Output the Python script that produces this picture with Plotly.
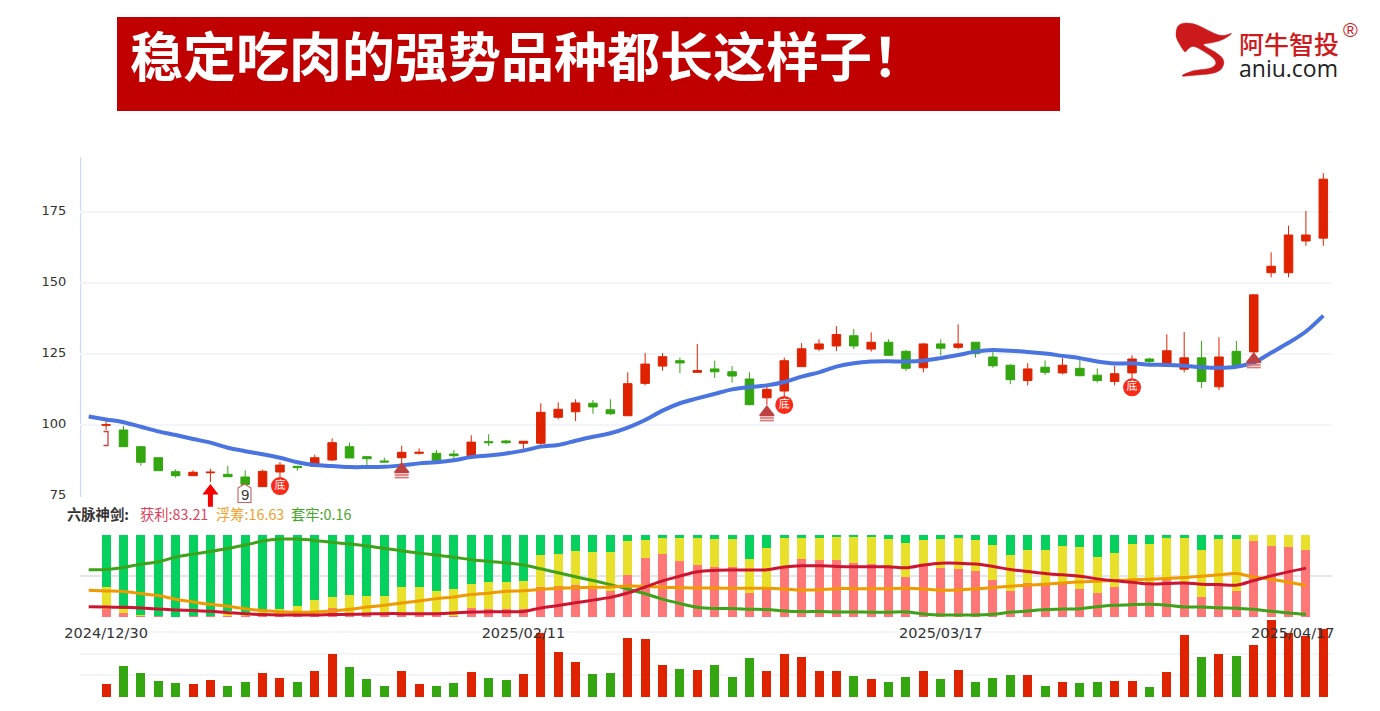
import plotly.graph_objects as go

W, H = 1380, 711

# ---------- data ----------
title_text = "稳定吃肉的强势品种都长这样子！"
tick_pos = [0, 24, 48]
tick_labels = ["2024/12/30", "2025/02/11", "2025/03/17"]
last_label = "2025/04/17"

opens = [99.95, 98.27, 92.38, 88.5, 83.57, 82.16, 83.2, 82.65, 81.7, 78.3, 83.46, 85.47, 85.47, 87.7, 92.38, 88.86, 87.34, 88.5, 90.05, 90.05, 89.8, 89.2, 94.15, 94.4,
         93.6, 93.6, 102.75, 104.7, 107.7, 105.4, 103.3, 114.7, 120.8, 122.7, 118.6, 119.8, 118.8, 116.25, 109.6, 112.0, 120.6, 126.8, 127.9, 131.5, 126.8, 129.2, 126.0, 120.2,
         128.6, 127.4, 129.2, 124.0, 121.1, 115.7, 120.4, 118.4, 120.0, 117.6, 115.4, 118.4, 123.3, 120.9, 119.7, 123.7, 113.5, 126.0, 125.8, 153.7, 153.7, 164.9, 165.9]
closes = [100.1, 92.38, 86.88, 83.92, 82.16, 83.36, 83.4, 81.8, 79.1, 83.7, 85.9, 85.0, 88.5, 93.8, 88.4, 88.15, 87.0, 90.4, 90.4, 86.74, 89.2, 94.0, 93.8, 93.8,
          94.3, 104.5, 105.57, 107.8, 106.4, 104.0, 114.6, 121.5, 124.1, 121.9, 119.2, 118.8, 117.3, 107.2, 112.6, 122.7, 126.9, 128.6, 131.9, 127.9, 129.2, 124.6, 120.0, 128.6,
          127.1, 128.6, 125.2, 120.9, 116.0, 119.8, 118.6, 121.1, 117.4, 115.7, 118.1, 123.3, 122.4, 126.2, 123.7, 115.4, 124.0, 121.1, 145.9, 156.0, 167.0, 167.0, 186.7]
highs = [101.4, 99.68, 92.4, 88.5, 84.4, 84.06, 84.6, 85.6, 84.06, 84.3, 87.0, 85.5, 89.56, 95.3, 93.8, 89.0, 88.5, 92.7, 91.8, 91.2, 91.2, 96.4, 96.75, 94.75,
         94.3, 107.7, 108.0, 109.1, 108.85, 109.1, 118.6, 125.4, 125.4, 123.8, 128.6, 122.7, 120.8, 118.6, 114.5, 123.8, 128.9, 130.25, 134.9, 133.9, 132.7, 130.25, 126.5, 128.9,
         130.25, 135.5, 129.3, 125.9, 121.5, 121.8, 122.8, 123.6, 124.0, 120.0, 120.9, 124.6, 123.7, 132.0, 132.8, 129.65, 131.0, 129.65, 146.0, 160.9, 170.3, 175.5, 188.8]
lows = [98.3, 92.3, 85.68, 83.9, 81.45, 82.16, 79.9, 81.8, 79.0, 78.3, 81.3, 83.9, 85.4, 87.3, 88.4, 85.9, 86.7, 85.9, 89.6, 86.7, 88.0, 88.3, 92.6, 93.3,
        91.5, 92.4, 102.0, 101.4, 104.0, 103.6, 103.3, 114.0, 119.2, 118.3, 118.5, 116.6, 115.0, 107.0, 107.1, 109.6, 120.5, 126.1, 126.1, 126.8, 125.9, 124.5, 119.1, 118.6,
        124.5, 126.8, 123.8, 120.2, 114.4, 114.0, 117.7, 117.9, 117.3, 115.0, 114.0, 115.9, 121.2, 120.8, 118.6, 113.1, 112.4, 120.6, 122.0, 152.1, 152.1, 163.2, 163.2]

ma_line = [103.0, 102.0, 101.0, 99.4, 97.8, 96.5, 95.1, 93.8, 92.0, 90.8, 89.7, 88.5, 86.9, 85.9, 85.6, 85.2, 85.2, 85.3, 85.8, 86.5, 86.9, 87.6, 88.75, 89.3, 90.0, 91.0,
           92.4, 93.0, 94.5, 95.9, 97.1, 99.1, 101.8, 105.1, 107.7, 109.4, 111.0, 112.6, 113.4, 114.0, 115.2, 117.1, 118.6, 120.6, 121.8, 122.4, 122.5, 122.4, 122.7,
           123.6, 124.7, 125.9, 126.5, 126.2, 125.8, 125.2, 124.4, 123.6, 122.4, 121.7, 121.8, 121.3, 121.2, 120.9, 120.4, 120.2, 120.6, 122.0, 125.5, 129.0, 133.0, 138.6]

profit_bar = [9.8, 4.9, 2.4, 1.6, 0.4, 1.2, 1.2, 0.8, 0.8, 1.6, 0.8, 0.8, 2.9, 11.0, 4.9, 3.7, 3.7, 4.0, 4.0, 2.9, 1.6, 11.4, 10.2, 10.2,
              9.9, 36.2, 37.4, 38.7, 34.2, 32.1, 51.8, 71.6, 77.4, 68.3, 63.0, 61.3, 61.3, 28.8, 34.2, 61.7, 70.4, 69.1, 69.1, 65.8, 64.2, 62.1, 48.6, 63.0,
              60.0, 58.8, 55.5, 45.3, 31.4, 41.6, 41.2, 41.2, 34.7, 29.4, 36.7, 41.2, 41.2, 45.3, 41.2, 24.5, 41.2, 32.2, 92.6, 86.9, 85.7, 81.2]
float_bar = [26.5, 4.9, 0.4, 0.0, 0.0, 0.0, 0.0, 6.5, 3.3, 5.7, 9.4, 13.0, 17.5, 13.9, 22.4, 22.4, 22.4, 32.0, 32.0, 29.0, 32.6, 29.4, 33.0, 32.0,
             34.5, 39.1, 39.1, 42.0, 45.3, 47.3, 40.3, 22.6, 18.5, 27.6, 32.9, 34.1, 34.1, 41.6, 49.8, 34.5, 26.3, 27.6, 28.4, 31.7, 33.3, 33.3, 41.1, 31.3,
             34.7, 38.0, 38.0, 42.8, 44.1, 40.4, 40.8, 45.7, 51.0, 43.7, 41.2, 48.1, 48.1, 51.4, 55.5, 56.7, 54.3, 63.2, 7.4, 13.1, 14.3, 18.8]
trapped_bar = [63.7, 90.2, 97.2, 98.4, 99.6, 98.8, 98.8, 92.7, 95.9, 92.7, 89.8, 86.2, 79.6, 75.1, 72.7, 73.9, 73.9, 64.0, 64.0, 68.1, 65.8, 59.2, 56.8, 57.8,
               55.6, 24.7, 23.5, 19.3, 20.5, 20.6, 7.9, 5.8, 4.1, 4.1, 4.1, 4.6, 4.6, 29.6, 16.0, 3.8, 3.3, 3.3, 2.5, 2.5, 2.5, 4.6, 10.3, 5.7,
               5.3, 3.2, 6.5, 11.9, 24.5, 18.0, 18.0, 13.1, 14.3, 26.9, 22.1, 10.7, 10.7, 3.3, 3.3, 18.8, 4.5, 4.6, 0.0, 0.0, 0.0, 0.0]

profit_line = [12.6, 12.2, 11.8, 11.0, 9.8, 8.6, 7.8, 6.9, 5.3, 4.1, 2.9, 2.4, 2.4, 2.4, 2.9, 3.3, 3.7, 4.1, 4.1, 4.1, 4.1, 4.9, 6.1, 6.5, 6.5,
               6.6, 11.1, 14.0, 17.3, 20.6, 23.9, 29.2, 36.6, 44.0, 49.8, 55.1, 56.8, 57.2, 57.2, 57.6, 60.9, 62.5, 62.5, 61.7, 61.3, 61.3, 61.3, 60.0, 63.4,
               65.7, 65.7, 64.5, 61.6, 57.9, 55.5, 53.0, 51.4, 49.8, 46.5, 44.1, 42.4, 40.4, 40.8, 41.6, 40.0, 39.6, 38.8, 44.5, 50.2, 55.1, 59.6]
float_line = [32.6, 31.8, 31.0, 28.6, 26.1, 21.6, 18.4, 15.5, 13.1, 10.2, 7.8, 6.5, 5.7, 6.1, 7.3, 9.4, 12.2, 14.3, 17.1, 19.6, 22.4, 24.5, 27.3, 29.0, 31.4,
              32.1, 33.7, 35.0, 35.8, 36.2, 36.6, 37.9, 37.4, 36.2, 35.8, 35.4, 35.4, 35.0, 35.0, 35.0, 34.2, 32.9, 33.3, 34.6, 34.6, 34.6, 34.6, 35.0, 34.2,
              32.6, 33.0, 34.3, 35.9, 37.5, 38.8, 40.0, 41.6, 42.8, 43.7, 44.5, 45.3, 46.1, 46.9, 48.1, 49.8, 51.4, 53.0, 48.6, 46.1, 42.4, 38.4]
trapped_line = [57.5, 57.9, 60.4, 64.5, 67.3, 73.0, 76.7, 80.0, 83.6, 87.7, 92.6, 95.0, 95.0, 93.4, 91.0, 88.9, 86.5, 83.6, 80.8, 77.9, 75.5, 73.0, 69.8, 67.7, 66.0,
                63.4, 58.8, 53.9, 49.0, 44.4, 39.5, 34.2, 28.4, 21.8, 16.5, 11.9, 10.3, 10.3, 9.5, 9.0, 7.4, 6.6, 6.6, 6.2, 6.2, 5.8, 5.8, 6.2, 3.7,
                2.4, 2.4, 2.4, 3.3, 5.7, 7.3, 9.0, 9.8, 10.2, 12.6, 14.3, 15.1, 15.5, 14.3, 12.2, 12.2, 11.4, 10.6, 9.4, 6.9, 4.9, 3.3]

volume = [12.7, 31.3, 23.7, 16.3, 13.7, 12.7, 17.3, 11.0, 15.3, 23.7, 19.0, 15.3, 26.3, 43.3, 30.3, 18.3, 11.0, 26.3, 12.7, 11.0, 13.7, 24.7, 19.0, 17.3,
          23.0, 64.0, 45.0, 35.0, 23.0, 24.0, 59.0, 58.0, 32.0, 28.3, 27.3, 32.0, 20.0, 39.3, 25.7, 43.3, 40.3, 26.3, 25.7, 21.0, 18.3, 15.3, 20.0, 25.7,
          17.7, 26.7, 14.7, 18.7, 22.3, 22.3, 11.0, 14.7, 13.7, 14.7, 15.7, 15.7, 10.0, 25.0, 62.0, 39.7, 42.7, 40.7, 51.7, 76.7, 63.7, 61.0, 67.7]

bottom_days = [10, 39, 59]
bottom_vals = [78.5, 107.1, 113.3]
signal_days = [17, 38, 66]
signal_tips = [87.0, 107.1, 125.8]
buy_day = 6
buy_head = 76.76
buy_stem_top = 76.0
nine_day = 8
nine_val = 75.0

legend_parts = [("六脉神剑:", "#333333", 65, True), ("获利:83.21", "#E0405A", 138, False),
                ("浮筹:16.63", "#F0A028", 214, False), ("套牢:0.16", "#46A62A", 289, False)]

# ---------- helpers ----------
UP, DOWN = "#DF2300", "#33A610"
BLUE, RED_L, ORANGE, GREEN_L = "#4A74DF", "#CC1530", "#EF9A00", "#3EA21A"
PINK, YELLOW, GREEN_B = "#FF7777", "#E9E02C", "#06D05E"
CJK = "Noto Sans CJK SC"
GRID = "#F4F5FA"

def px(x): return x / W
def py(y): return 1 - y / H
def path(pts, close=True):
    s = "M" + " L".join(f"{px(a):.5f},{py(b):.5f}" for a, b in pts)
    return s + (" Z" if close else "")
def smooth_path(pts):
    n = len(pts)
    mid = lambda p, q: ((p[0] + q[0]) / 2, (p[1] + q[1]) / 2)
    m0 = mid(pts[-1], pts[0])
    s = f"M{px(m0[0]):.5f},{py(m0[1]):.5f}"
    for i in range(n):
        m = mid(pts[i], pts[(i + 1) % n])
        s += f" Q{px(pts[i][0]):.5f},{py(pts[i][1]):.5f} {px(m[0]):.5f},{py(m[1]):.5f}"
    return s + " Z"

idx = list(range(len(opens)))
idx_line = list(range(-1, len(opens)))
idx_pulse = list(range(len(profit_bar)))
idx_pulse_line = list(range(-1, len(profit_bar)))
XR = [-1.5, 70.5]
XD = [px(80), px(1332)]
SM = 1.0

fig = go.Figure()

# main panel
fig.add_trace(go.Scatter(x=idx_line, y=ma_line, mode="lines", line=dict(color=BLUE, width=4, shape="spline", smoothing=SM),
                         xaxis="x", yaxis="y", showlegend=False))
fig.add_trace(go.Candlestick(x=idx, open=opens, high=highs, low=lows, close=closes, xaxis="x", yaxis="y", showlegend=False,
                             whiskerwidth=0,
                             increasing=dict(line=dict(color=UP, width=1), fillcolor=UP),
                             decreasing=dict(line=dict(color=DOWN, width=1), fillcolor=DOWN)))

# dark red signal arrows
sig_col = "#BF4040"
fig.add_trace(go.Scatter(x=signal_days, y=[v - 2.47 for v in signal_tips], mode="markers", cliponaxis=False,
                         marker=dict(symbol="triangle-up", size=14, color=sig_col, line_width=0), xaxis="x", yaxis="y", showlegend=False))
for off, col in ((-3.7, sig_col), (-4.6, "#D97A7A"), (-5.5, "#D97A7A")):
    fig.add_trace(go.Scatter(x=signal_days, y=[v + off for v in signal_tips], mode="markers", cliponaxis=False,
                             marker=dict(symbol="line-ew", size=10, line=dict(color=col, width=1.7)),
                             xaxis="x", yaxis="y", showlegend=False))

# bottom badges
fig.add_trace(go.Scatter(x=bottom_days, y=bottom_vals, mode="markers+text", text=["底"] * len(bottom_days),
                         textposition="middle center", textfont=dict(family=CJK, size=11, color="#FFFFFF"),
                         marker=dict(symbol="circle", size=18, color="#FA2A18"), xaxis="x", yaxis="y", showlegend=False))

# buy arrow head (stem is an annotation arrow below)
fig.add_trace(go.Scatter(x=[buy_day], y=[buy_head], mode="markers", cliponaxis=False,
                         marker=dict(symbol="triangle-up", size=14, color="#F40000", line_width=0), xaxis="x", yaxis="y", showlegend=False))
# "9" tag text
fig.add_trace(go.Scatter(x=[nine_day], y=[nine_val], mode="text", text=["9"], cliponaxis=False,
                         textfont=dict(family="Liberation Sans", size=15, color="#333333"), xaxis="x", yaxis="y", showlegend=False))

# volume panel (x2/y2, drawn before the pulse panel so its grid stays under the date labels)
vol_cols = [UP if c >= o else DOWN for o, c in zip(opens, closes)]
fig.add_trace(go.Bar(x=idx, y=volume, marker=dict(color=vol_cols, line_width=0), width=0.52,
                     xaxis="x2", yaxis="y2", showlegend=False))

# pulse panel (x3/y3)
for vals, col in ((profit_bar, PINK), (float_bar, YELLOW), (trapped_bar, GREEN_B)):
    fig.add_trace(go.Bar(x=idx_pulse, y=vals, marker=dict(color=col, line_width=0), width=0.52,
                         xaxis="x3", yaxis="y3", showlegend=False))
for vals, col in ((trapped_line, GREEN_L), (float_line, ORANGE), (profit_line, RED_L)):
    fig.add_trace(go.Scatter(x=idx_pulse_line, y=vals, mode="lines", line=dict(color=col, width=3, shape="spline", smoothing=SM),
                             xaxis="x3", yaxis="y3", showlegend=False))

shapes = [
    # banner
    dict(type="rect", xref="paper", yref="paper", x0=px(117), x1=px(1060), y0=py(111), y1=py(17),
         fillcolor="#C00000", line_width=0, layer="above"),
    # y axis line
    dict(type="line", xref="paper", yref="paper", x0=px(80.6), x1=px(80.6), y0=py(497), y1=py(157),
         line=dict(color="#D0DAF5", width=1.3), layer="below"),
    # "9" tag outline
    dict(type="path", xref="paper", yref="paper", layer="above",
         path=path([(238, 488), (244.5, 484), (251, 488), (251, 502.5), (238, 502.5)]),
         line=dict(color="#C8605C", width=1.1), fillcolor="rgba(255,255,255,0)"),
    # bracket tag
    dict(type="path", xref="paper", yref="paper", layer="above",
         path=path([(103.5, 431.5), (108, 431.5), (108, 445.5), (103.5, 445.5)], close=False),
         line=dict(color="#C8403C", width=1.3), fillcolor="rgba(0,0,0,0)"),
]

# logo swoosh (logo decoration, traced outline)
logo = [(1175, 36), (1178, 23), (1194, 23), (1207, 30), (1222, 37), (1234, 32), (1225, 39), (1213, 43), (1200, 44),
        (1216, 52), (1225, 60), (1222, 70), (1212, 74), (1195, 75), (1178, 77), (1193, 70), (1210, 69), (1217, 64),
        (1214, 58), (1205, 52), (1193, 45), (1187, 50), (1185, 53), (1180, 45)]
shapes.append(dict(type="path", xref="paper", yref="paper", layer="above", path=smooth_path(logo),
                   fillcolor="#CC1A1C", line=dict(color="#CC1A1C", width=0.5)))

annos = [
    dict(text=title_text, x=px(128), y=py(54.5), xanchor="left", yanchor="middle",
         font=dict(family=CJK, size=53, color="#FFFFFF", weight=700)),
    dict(text="阿牛智投", x=px(1237), y=py(43), xanchor="left", yanchor="middle",
         font=dict(family=CJK, size=25, color="#CF1A1C", weight=500)),
    dict(text="aniu.com", x=px(1236.5), y=py(68), xanchor="left", yanchor="middle",
         font=dict(family="Open Sans", size=23, color="#222222")),
    dict(text="®", x=px(1341), y=py(30), xanchor="left", yanchor="middle",
         font=dict(family="Liberation Sans", size=20, color="#CF1A1C")),
]
for txt, col, x0, bold in legend_parts:
    annos.append(dict(text=txt, x=px(x0), y=py(513), xanchor="left", yanchor="middle",
                      font=dict(family=CJK, size=14.3, color=col, weight=700 if bold else 400)))
# rightmost date, flush to the axis end
annos.append(dict(text=last_label, xref="x3", yref="paper", x=70, y=py(633), xanchor="right", yanchor="middle", xshift=14,
                  font=dict(family="DejaVu Sans", size=14.5, color="#333333")))
for a in annos:
    a.setdefault("xref", "paper"); a.setdefault("yref", "paper"); a["showarrow"] = False
# buy arrow stem: anchored to the data, running below the axis
annos.append(dict(text="", xref="x", yref="y", x=buy_day, y=buy_stem_top, ax=0, ay=15, axref="pixel", ayref="pixel",
                  showarrow=True, arrowhead=0, arrowwidth=5, arrowcolor="#F40000", standoff=0, startstandoff=0))

hidden = dict(range=XR, domain=XD, showticklabels=False, showgrid=False, zeroline=False, ticks="")

fig.update_layout(
    width=W, height=H, margin=dict(l=0, r=0, t=0, b=0, autoexpand=False),
    paper_bgcolor="#FFFFFF", plot_bgcolor="#FFFFFF",
    barmode="stack", boxgap=0.3, hovermode=False,
    xaxis=dict(**hidden, anchor="y", rangeslider=dict(visible=False)),
    yaxis=dict(domain=[py(497), py(157)], range=[74.65, 194.5], tickvals=[75, 100, 125, 150, 175],
               tickfont=dict(family="DejaVu Sans", size=13, color="#333333"),
               showgrid=True, gridcolor=GRID, gridwidth=1.5, zeroline=False, showline=False,
               ticks="outside", ticklen=10, tickcolor="rgba(0,0,0,0)", ticklabelshift=-2, anchor="x"),
    xaxis2=dict(**hidden, anchor="y2"),
    yaxis2=dict(domain=[py(697), py(620)], range=[0, 77], tickvals=[21.7, 43.3, 65], showticklabels=False, ticks="",
                showgrid=True, gridcolor=GRID, gridwidth=1.5, zeroline=False, anchor="x2"),
    xaxis3=dict(range=XR, domain=XD, anchor="y3", tickvals=tick_pos, ticktext=tick_labels, ticks="outside", ticklen=3,
                tickcolor="rgba(0,0,0,0)", showgrid=False, zeroline=False,
                tickfont=dict(family="DejaVu Sans", size=14.5, color="#333333")),
    yaxis3=dict(domain=[py(617), py(535)], range=[0, 100], tickvals=[0, 50, 100], showticklabels=False, ticks="",
                showgrid=True, gridcolor="#E6E6EA", gridwidth=1.5, zeroline=False, anchor="x3"),
    shapes=shapes, annotations=annos,
)

fig.write_html("out.html", config={"displayModeBar": False},
               post_script="document.body.style.margin='0';")
